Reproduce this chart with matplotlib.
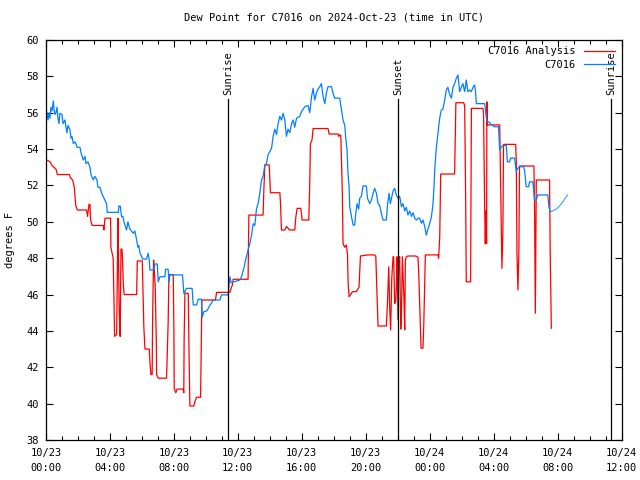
import matplotlib
matplotlib.use("Agg")
import matplotlib.pyplot as plt
from matplotlib.ticker import MultipleLocator
import numpy as np

# hours since 2024-10-23 00:00 UTC
analysis_t = [0.04, 0.25, 0.375, 0.5, 0.625, 0.71, 1.46, 1.54, 1.67, 1.77, 1.86, 1.96, 2.54, 2.6, 2.69, 2.75,
              2.79, 2.89, 3.58, 3.62, 3.69, 4.04, 4.06, 4.2, 4.25, 4.29, 4.42, 4.46, 4.5, 4.53, 4.58, 4.64,
              4.69, 4.75, 4.79, 4.84, 4.89, 5.67, 5.71, 6.02, 6.04, 6.12, 6.19, 6.46, 6.5, 6.56, 6.64, 6.67,
              6.73, 6.77, 6.83, 6.9, 6.92, 7.02, 7.54, 7.64, 7.69, 7.96, 8.0, 8.02, 8.12, 8.2, 8.58, 8.62,
              8.64, 8.69, 8.9, 8.94, 9.0, 9.25, 9.31, 9.42, 9.67, 9.71, 9.75, 10.6, 10.67, 11.5, 11.56, 11.65,
              11.71, 12.64, 12.69, 13.58, 13.63, 13.69, 13.96, 14.0, 14.04, 14.63, 14.67, 14.73, 14.94, 15.04,
              15.14, 15.25, 15.56, 15.63, 15.71, 15.94, 15.98, 16.02, 16.44, 16.5, 16.54, 16.64, 16.71, 17.64,
              17.71, 18.27, 18.31, 18.38, 18.44, 18.54, 18.58, 18.69, 18.79, 18.86, 18.9, 18.96, 19.06, 19.17,
              19.42, 19.5, 19.58, 19.67, 20.14, 20.56, 20.63, 20.71, 20.77, 21.29, 21.36, 21.44, 21.5, 21.56,
              21.63, 21.71, 21.75, 21.81, 21.88, 21.92, 21.96, 22.02, 22.06, 22.125, 22.19, 22.23, 22.29, 22.33,
              22.39, 22.44, 22.48, 22.54, 22.64, 23.13, 23.27, 23.33, 23.42, 23.46, 23.58, 23.63, 23.69, 23.73,
              24.52, 24.56, 24.63, 24.69, 25.56, 25.64, 26.12, 26.19, 26.25, 26.29, 26.56, 26.61, 27.33, 27.37,
              27.44, 27.48, 27.52, 27.56, 27.58, 27.61, 28.38, 28.42, 28.48, 28.52, 28.58, 28.62, 29.38, 29.42,
              29.46, 29.52, 29.58, 29.62, 30.52, 30.56, 30.61, 30.65, 30.67, 31.5, 31.54, 31.61]
analysis_v = [53.4, 53.3, 53.1, 53.0, 52.9, 52.6, 52.6, 52.4, 52.3, 51.9, 50.9, 50.65, 50.65, 50.3, 50.96, 50.96,
              50.1, 49.8, 49.8, 49.55, 50.2, 50.2, 48.6, 48.0, 45.8, 43.7, 43.8, 47.0, 50.2, 48.45, 45.0, 43.7,
              48.5, 48.5, 47.8, 46.5, 46.0, 46.0, 47.85, 47.85, 47.2, 44.2, 43.0, 43.0, 42.3, 41.6, 41.6, 44.8,
              47.9, 47.4, 46.5, 43.5, 41.6, 41.4, 41.4, 44.4, 47.1, 47.1, 44.0, 40.84, 40.6, 40.8, 40.8, 40.6,
              43.5, 46.07, 46.07, 43.2, 39.87, 39.87, 40.1, 40.35, 40.35, 43.0, 45.7, 45.7, 46.12, 46.12, 46.3, 46.5,
              46.84, 46.84, 50.37, 50.37, 51.8, 53.13, 53.13, 52.4, 51.6, 51.6, 51.0, 49.55, 49.55, 49.75,
              49.65, 49.55, 49.55, 50.28, 50.74, 50.74, 50.4, 50.1, 50.1, 52.2, 54.3, 54.5, 55.13, 55.13,
              54.83, 54.83, 54.7, 54.78, 54.75, 51.5, 48.8, 48.6, 48.72, 48.2, 46.6, 45.88, 46.0, 46.16,
              46.16, 46.3, 46.4, 48.12, 48.18, 48.18, 48.1, 45.8, 44.27, 44.27, 45.5, 47.53, 45.3, 44.05,
              46.9, 48.08, 48.08, 45.5, 45.7, 46.5, 48.08, 44.6, 47.8, 48.08, 44.1, 44.6, 48.08, 47.2,
              45.8, 44.05, 47.9, 48.08, 48.12, 48.12, 48.05, 46.8, 44.33, 43.05, 43.05, 44.3, 46.8, 48.18,
              48.18, 48.0, 49.2, 52.63, 52.63, 56.55, 56.55, 56.4, 51.4, 46.7, 46.7, 56.24, 56.24, 56.0,
              50.8, 48.8, 50.6, 48.8, 56.6, 55.33, 55.33, 53.0, 49.4, 47.44, 49.4, 54.26, 54.26, 53.3,
              48.3, 46.25, 48.3, 53.07, 53.07, 51.0, 44.97, 49.5, 52.3, 52.3, 48.3, 44.15]

obs_t = [0.04, 0.125, 0.19, 0.25, 0.31, 0.375, 0.46, 0.5, 0.56, 0.625, 0.69, 0.75, 0.81, 0.875, 1.0, 1.06,
         1.19, 1.25, 1.31, 1.375, 1.5, 1.56, 1.625, 1.71, 1.81, 1.875, 1.94, 2.125, 2.19, 2.33, 2.44, 2.5,
         2.625, 2.75, 2.81, 2.96, 3.06, 3.19, 3.25, 3.375, 3.48, 3.625, 3.79, 3.83, 4.52, 4.56, 4.64, 4.73,
         4.81, 4.875, 5.04, 5.125, 5.25, 5.46, 5.56, 5.67, 5.75, 5.81, 5.875, 5.98, 6.04, 6.29, 6.39, 6.46,
         6.5, 6.71, 6.81, 6.96, 7.02, 7.125, 7.44, 7.48, 7.64, 7.69, 7.75, 8.54, 8.625, 8.79, 9.14, 9.21,
         9.42, 9.52, 9.73, 9.77, 9.875, 10.06, 10.25, 10.46, 10.875, 10.98, 11.39, 11.5, 11.58, 12.125,
         12.23, 12.375, 12.5, 12.64, 12.75, 12.86, 12.96, 13.06, 13.17, 13.27, 13.375, 13.48, 13.58, 13.69,
         13.79, 13.89, 14.11, 14.21, 14.31, 14.42, 14.52, 14.625, 14.73, 14.83, 14.94, 15.04, 15.14, 15.25,
         15.36, 15.46, 15.56, 15.67, 15.875, 15.98, 16.19, 16.39, 16.5, 16.61, 16.71, 16.81, 16.92, 17.02,
         17.125, 17.23, 17.33, 17.44, 17.54, 17.64, 17.86, 17.96, 18.06, 18.375, 18.42, 18.48, 18.58, 18.69,
         18.75, 18.83, 18.89, 18.96, 19.0, 19.11, 19.21, 19.31, 19.375, 19.46, 19.56, 19.625, 19.73, 19.83,
         20.04, 20.11, 20.25, 20.36, 20.46, 20.56, 20.67, 20.77, 20.875, 20.98, 21.08, 21.29, 21.36, 21.46,
         21.54, 21.71, 21.81, 21.92, 22.02, 22.125, 22.23, 22.33, 22.44, 22.54, 22.64, 22.75, 22.86, 22.96,
         23.06, 23.17, 23.27, 23.375, 23.48, 23.58, 23.69, 23.79, 23.89, 24.0, 24.11, 24.21, 24.27, 24.33,
         24.42, 24.52, 24.625, 24.73, 24.83, 24.94, 25.04, 25.14, 25.25, 25.36, 25.46, 25.56, 25.67, 25.77,
         25.875, 25.98, 26.08, 26.19, 26.29, 26.39, 26.5, 26.61, 26.71, 26.81, 26.875, 26.92, 27.44, 27.5,
         27.58, 27.71, 27.86, 27.96, 28.02, 28.31, 28.375, 28.48, 28.58, 28.79, 28.86, 29.0, 29.06, 29.31,
         29.42, 29.52, 29.625, 29.875, 29.94, 30.04, 30.19, 30.25, 30.46, 30.56, 30.67, 30.77, 31.39, 31.46,
         31.54, 31.71, 31.92, 32.125, 32.33, 32.54, 32.64]
obs_v = [56.06, 55.6, 56.0, 55.7, 56.3, 56.1, 56.65, 56.2, 55.9, 56.0, 56.3, 55.7, 55.4, 55.97, 55.9, 55.4,
         55.6, 55.2, 54.9, 55.3, 55.05, 54.6, 54.7, 54.3, 54.4, 54.3, 54.1, 54.1, 53.8, 53.4, 53.6, 53.2,
         53.3, 53.0, 52.6, 52.3, 52.5, 52.3, 51.9, 51.9, 51.57, 51.3, 51.0, 50.52, 50.52, 50.87, 50.87, 50.28,
         50.3, 50.0, 49.55, 50.0, 49.6, 49.37, 49.5, 49.0, 48.6, 48.7, 48.3, 48.1, 47.95, 47.95, 48.27, 47.9,
         47.35, 47.35, 47.68, 47.68, 46.7, 46.98, 46.98, 47.39, 47.39, 46.68, 47.08, 47.08, 46.06, 46.34, 46.34, 45.43,
         45.43, 45.74, 45.74, 44.75, 45.06, 45.1, 45.4, 45.7, 45.7, 45.98, 45.98, 46.98, 46.65, 46.8,
         46.98, 47.44, 47.96, 48.45, 48.8, 49.27, 49.9, 49.8, 50.74, 51.0, 51.57, 52.3, 52.5, 53.13,
         53.2, 53.68, 54.05, 54.7, 55.1, 54.8, 55.4, 55.8, 55.6, 55.97, 55.6, 54.7, 55.1, 54.9,
         55.4, 55.6, 55.2, 55.7, 55.8, 56.06, 56.33, 56.4, 56.0, 56.88, 57.34, 56.7, 57.1, 57.3,
         57.43, 57.6, 56.9, 56.5, 57.1, 57.43, 57.43, 57.06, 56.8, 56.8, 56.5, 56.2, 55.6, 55.3,
         54.6, 53.95, 52.67, 51.93, 50.83, 50.28, 49.82, 49.82, 50.46, 51.0, 50.7, 51.3, 51.4, 51.97,
         51.97, 51.3, 51.0, 51.2, 51.57, 51.84, 51.57, 51.0, 50.9, 50.46, 50.1, 50.1, 50.9, 51.57,
         51.0, 51.7, 51.84, 51.46, 51.3, 51.4, 50.83, 51.0, 50.6, 50.8, 50.37, 50.6, 50.3, 50.5,
         50.2, 50.1, 50.2, 50.2, 49.92, 50.1, 49.75, 49.27, 49.6, 49.9, 50.28, 51.0, 51.93, 53.03,
         54.13, 54.87, 55.7, 56.15, 56.2, 56.7, 57.25, 57.4, 57.0, 56.8, 57.4, 57.6, 57.9, 58.08,
         57.16, 57.4, 57.6, 57.16, 57.8, 57.16, 57.25, 57.16, 57.4, 57.52, 57.1, 56.5, 56.5, 56.06,
         55.5, 55.5, 55.33, 55.33, 55.23, 55.23, 53.95, 54.1, 54.2, 54.2, 53.3, 53.3, 53.5, 53.5,
         52.77, 52.95, 53.03, 53.03, 52.8, 51.93, 51.93, 52.2, 52.2, 51.2, 51.2, 51.48, 51.48, 50.83,
         50.56, 50.6, 50.7, 50.87, 51.1, 51.38, 51.48]

sun_events = [("Sunrise", 11.39), ("Sunset", 22.02), ("Sunrise", 35.34)]

fnt = "DejaVu Sans Mono"
plt.rcParams['font.family'] = fnt
plt.rcParams['font.size'] = 7.5

fig = plt.figure(figsize=(6.4, 4.8), dpi=100)
ax = fig.add_axes([46/640, 40/480, 575.5/640, 400/480])

ot = np.array(obs_t); ov = np.array(obs_v)
cut = np.searchsorted(ot, 31.54)
ax.plot(analysis_t, analysis_v, color="#ff0000", lw=0.9, label="C7016 Analysis")
ax.plot(ot[:cut+1], ov[:cut+1], color="#0080ff", lw=0.9, label="C7016")
ax.plot(ot[cut:], ov[cut:], color="#0080ff", lw=0.6)

for name, h in sun_events:
    ax.plot([h, h], [38, 56.75], color="black", lw=0.9)
    ax.text(h, 56.95, name, rotation=90, ha="center", va="bottom", fontsize=7.5)

ax.set_xlim(0, 36)
ax.set_ylim(38, 60)
ax.xaxis.set_major_locator(MultipleLocator(4))
ax.xaxis.set_minor_locator(MultipleLocator(1))
ax.yaxis.set_major_locator(MultipleLocator(2))
xt = np.arange(0, 37, 4)
ax.set_xticks(xt)
ax.set_xticklabels(["10/%d\n%02d:00" % (23 + int(h) // 24, int(h) % 24) for h in xt], linespacing=1.6)
ax.tick_params(which="both", direction="in", top=True, right=True, width=0.8)
ax.tick_params(which="major", length=5)
ax.tick_params(which="minor", length=3)
ax.tick_params(axis="x", pad=6)
ax.tick_params(axis="y", pad=5)
for s in ax.spines.values():
    s.set_linewidth(0.9)

ax.set_ylabel("degrees F", labelpad=8)
ax.set_title("Dew Point for C7016 on 2024-Oct-23 (time in UTC)", pad=14, fontsize=7.5)

leg = ax.legend(loc="upper right", frameon=False, markerfirst=False, handlelength=3.0,
                handletextpad=0.8, borderaxespad=0.2, labelspacing=0.35, fontsize=7.5)
for t in leg.get_texts():
    t.set_ha("right")

fig.savefig("out.png", dpi=100)
